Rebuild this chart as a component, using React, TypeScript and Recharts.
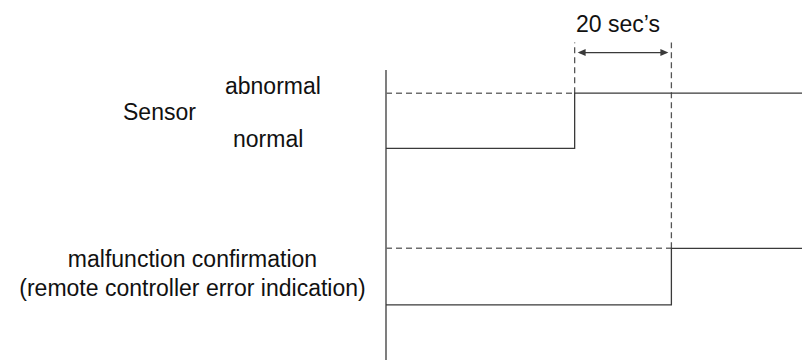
import React from 'react';
import { LineChart, Line, XAxis, YAxis, ReferenceLine } from 'recharts';

// time axis in seconds, signal levels in chart units
const sensorTimes = [0, 39, 86];
const sensorLevels = [7.3, 9.2, 9.2];
const errorTimes = [0, 59, 86];
const errorLevels = [1.9, 3.85, 3.85];

const delayWindow = [39, 59]; // 20 sec's
const abnormalLevels = [9.2, 3.85]; // sensor, error
const markerTop = 10.95;
const arrowLevel = 10.6;

const delayLabel = "20 sec\u2019s";
const sensorLabels = ['abnormal', 'Sensor', 'normal'];
const errorLabels = ['malfunction confirmation', '(remote controller error indication)'];

const W = 802;
const H = 360;
const FONT = '"Liberation Sans", Arial, sans-serif';
const SOLID = '#3a3a3a';
const DASH = '#6e6e6e';

const sensorData = sensorTimes.map((t, i) => ({ t, v: sensorLevels[i] }));
const errorData = errorTimes.map((t, i) => ({ t, v: errorLevels[i] }));

function DoubleArrow(props: any) {
  const { x1, y1, x2 } = props;
  if (x1 == null || x2 == null) return null;
  const a = x1 + 3;
  const b = x2 - 3;
  const y = y1;
  return (
    <g>
      <line x1={a + 2} y1={y} x2={b - 2} y2={y} stroke={SOLID} strokeWidth={1.2} />
      <polygon points={`${a},${y} ${a + 8},${y - 3.5} ${a + 8},${y + 3.5}`} fill={SOLID} />
      <polygon points={`${b},${y} ${b - 8},${y - 3.5} ${b - 8},${y + 3.5}`} fill={SOLID} />
    </g>
  );
}

export default function App() {
  const [start, end] = delayWindow;
  const [sensorHigh, errorHigh] = abnormalLevels;
  const textStyle = { fontFamily: FONT, fontSize: 23, fill: '#111' };

  return (
    <div style={{ position: 'absolute', left: 0, top: 0, width: W, height: H, background: '#fff' }}>
      <LineChart width={W} height={H} margin={{ top: 70, right: 0, bottom: 0, left: 386 }}>
        <XAxis type="number" dataKey="t" domain={[0, 86]} hide height={0} />
        <YAxis type="number" domain={[0, 10]} hide width={0} />

        {/* time axis origin */}
        <ReferenceLine
          segment={[{ x: 0, y: 0 }, { x: 0, y: 10 }]}
          stroke={SOLID}
          strokeWidth={1.3}
          ifOverflow="visible"
        />

        {/* dashed "abnormal" reference levels */}
        <ReferenceLine
          segment={[{ x: 0, y: sensorHigh }, { x: start, y: sensorHigh }]}
          stroke={DASH}
          strokeWidth={1.5}
          strokeDasharray="6 4"
        />
        <ReferenceLine
          segment={[{ x: 0, y: errorHigh }, { x: end, y: errorHigh }]}
          stroke={DASH}
          strokeWidth={1.5}
          strokeDasharray="6 4"
        />

        {/* dashed timing markers */}
        <ReferenceLine
          segment={[{ x: start, y: sensorHigh }, { x: start, y: markerTop }]}
          stroke="#555"
          strokeWidth={1.3}
          strokeDasharray="6 4"
          ifOverflow="visible"
        />
        <ReferenceLine
          segment={[{ x: end, y: errorHigh }, { x: end, y: markerTop }]}
          stroke="#555"
          strokeWidth={1.3}
          strokeDasharray="6 4"
          ifOverflow="visible"
        />
        <ReferenceLine
          segment={[{ x: start, y: arrowLevel }, { x: end, y: arrowLevel }]}
          ifOverflow="visible"
          shape={<DoubleArrow />}
        />

        <Line
          data={sensorData}
          dataKey="v"
          type="stepAfter"
          stroke={SOLID}
          strokeWidth={1.3}
          dot={false}
          activeDot={false}
          isAnimationActive={false}
        />
        <Line
          data={errorData}
          dataKey="v"
          type="stepAfter"
          stroke={SOLID}
          strokeWidth={1.3}
          dot={false}
          activeDot={false}
          isAnimationActive={false}
        />
      </LineChart>

      <svg
        width={W}
        height={H}
        style={{ position: 'absolute', left: 0, top: 0, pointerEvents: 'none' }}
      >
        <text x={618} y={32} textAnchor="middle" {...textStyle}>{delayLabel}</text>
        <text x={225} y={94} {...textStyle}>{sensorLabels[0]}</text>
        <text x={123} y={120} {...textStyle}>{sensorLabels[1]}</text>
        <text x={233} y={147} {...textStyle}>{sensorLabels[2]}</text>
        <text x={192.5} y={267} textAnchor="middle" {...textStyle}>{errorLabels[0]}</text>
        <text x={192.5} y={296} textAnchor="middle" {...textStyle}>{errorLabels[1]}</text>
      </svg>
    </div>
  );
}
